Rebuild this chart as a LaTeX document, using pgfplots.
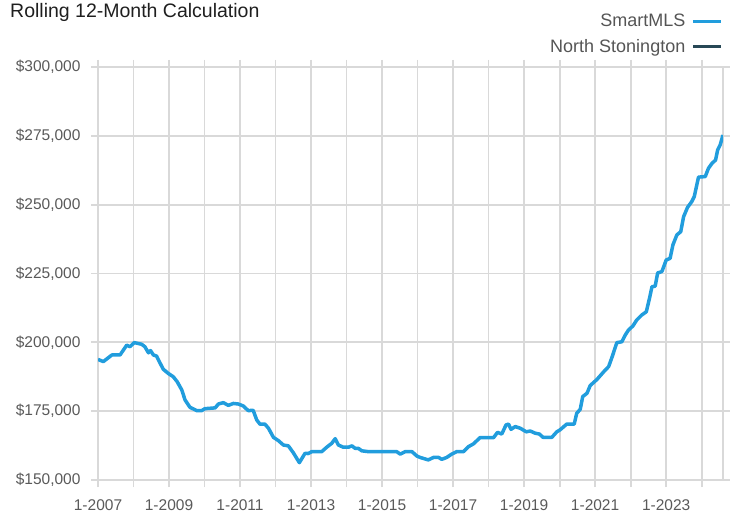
\documentclass[border=0pt]{standalone}
\usepackage{pgfplots}
\pgfplotsset{compat=1.18}
\usepackage{fontspec}
\setmainfont{Liberation Sans}
\definecolor{mlsblue}{RGB}{33,157,221}
\definecolor{nsdark}{RGB}{40,72,86}
\definecolor{gridgray}{RGB}{217,217,217}
\definecolor{ticktext}{RGB}{90,90,90}
\definecolor{legtext}{RGB}{85,85,85}
\begin{document}
\begin{tikzpicture}
\path[use as bounding box] (0,0) rectangle (733bp,515bp);
\begin{axis}[
  at={(98bp,35bp)}, anchor=south west,
  scale only axis, width=625bp, height=413bp,
  xmin=2007, xmax=2024.6, ymin=150000, ymax=300000,
  xtick={2007,...,2024},
  xticklabels={1-2007,,1-2009,,1-2011,,1-2013,,1-2015,,1-2017,,1-2019,,1-2021,,1-2023,},
  ytick={150000,175000,200000,225000,250000,275000,300000},
  yticklabels={{\$150,000},{\$175,000},{\$200,000},{\$225,000},{\$250,000},{\$275,000},{\$300,000}},
  scaled ticks=false,
  grid=major, grid style={gridgray, line width=1.8bp},
  axis line style={gridgray, line width=1.8bp},
  tick style={gridgray, line width=1.8bp},
  major tick length=7bp, tick align=outside,
  tick label style={font=\fontsize{15.5bp}{18bp}\selectfont, text=ticktext},
  yticklabel style={xshift=-7bp},
  xticklabel style={yshift=-9bp},
  legend style={at={(1,1.133)}, anchor=north east, draw=none, fill=none,
    font=\fontsize{18bp}{21bp}\selectfont, text=legtext, row sep=7bp, column sep=4bp, inner sep=0pt},
  legend cell align=right, legend plot pos=right,
  legend image code/.code={\draw[#1] (0bp,0bp) -- (28bp,0bp);},
]
\addplot[mlsblue, line width=3.5bp, line join=round] coordinates {
(2007.00,193800) (2007.15,193000) (2007.39,195400) (2007.62,195400) (2007.81,199000)
(2007.90,198400) (2008.02,199900) (2008.23,199300) (2008.32,198400) (2008.42,196200)
(2008.48,197000) (2008.56,195400) (2008.65,195000) (2008.75,192400) (2008.84,190200)
(2008.98,188700) (2009.12,187500) (2009.23,185700) (2009.36,182700) (2009.45,179100)
(2009.59,176400) (2009.78,175200) (2009.92,175200) (2010.01,175900) (2010.30,176200)
(2010.39,177600) (2010.53,178100) (2010.67,177100) (2010.81,177800) (2010.95,177600)
(2011.09,176900) (2011.23,175200) (2011.37,175300) (2011.47,171800) (2011.56,170300)
(2011.70,170300) (2011.80,168800) (2011.94,165500) (2012.08,164300) (2012.22,162700)
(2012.36,162400) (2012.50,159900) (2012.67,156300) (2012.83,159700) (2012.92,159600)
(2013.02,160300) (2013.30,160300) (2013.44,161900) (2013.58,163300) (2013.68,165000)
(2013.77,162700) (2013.91,161900) (2014.05,161900) (2014.15,162400) (2014.24,161500)
(2014.33,161500) (2014.43,160600) (2014.61,160300) (2015.41,160300) (2015.51,159400)
(2015.65,160300) (2015.84,160300) (2015.98,158700) (2016.07,158200) (2016.30,157300)
(2016.45,158200) (2016.59,158200) (2016.68,157500) (2016.82,158200) (2016.96,159400)
(2017.10,160300) (2017.29,160300) (2017.43,162100) (2017.57,163100) (2017.76,165400)
(2018.14,165400) (2018.25,167300) (2018.37,166700) (2018.49,170000) (2018.56,170300)
(2018.63,168400) (2018.75,169400) (2018.89,168800) (2019.06,167500) (2019.17,167800)
(2019.31,167000) (2019.43,166700) (2019.53,165500) (2019.78,165500) (2019.92,167500)
(2020.01,168200) (2020.20,170300) (2020.41,170300) (2020.48,174200) (2020.58,175700)
(2020.65,180300) (2020.77,181500) (2020.86,184300) (2021.05,186500) (2021.24,189300)
(2021.38,191200) (2021.48,194800) (2021.61,199900) (2021.75,200200) (2021.85,202700)
(2021.94,204500) (2022.06,205900) (2022.17,208100) (2022.31,209900) (2022.44,211100)
(2022.53,216000) (2022.60,220200) (2022.69,220400) (2022.76,225200) (2022.88,225700)
(2023.00,229900) (2023.11,230500) (2023.19,235400) (2023.30,239000) (2023.41,240200)
(2023.49,245600) (2023.60,249000) (2023.72,251100) (2023.79,252900) (2023.91,260000)
(2024.10,260200) (2024.19,263200) (2024.29,265000) (2024.39,266200) (2024.45,269900)
(2024.52,271700) (2024.60,275300)
};
\addlegendentry{SmartMLS}
\addlegendimage{nsdark, line width=3.5bp}
\addlegendentry{North Stonington}
\end{axis}
\node[anchor=base west, inner sep=0pt, font=\fontsize{19.5bp}{22bp}\selectfont, text=black!88] at (10bp,497bp) {Rolling 12-Month Calculation};
\end{tikzpicture}
\end{document}
